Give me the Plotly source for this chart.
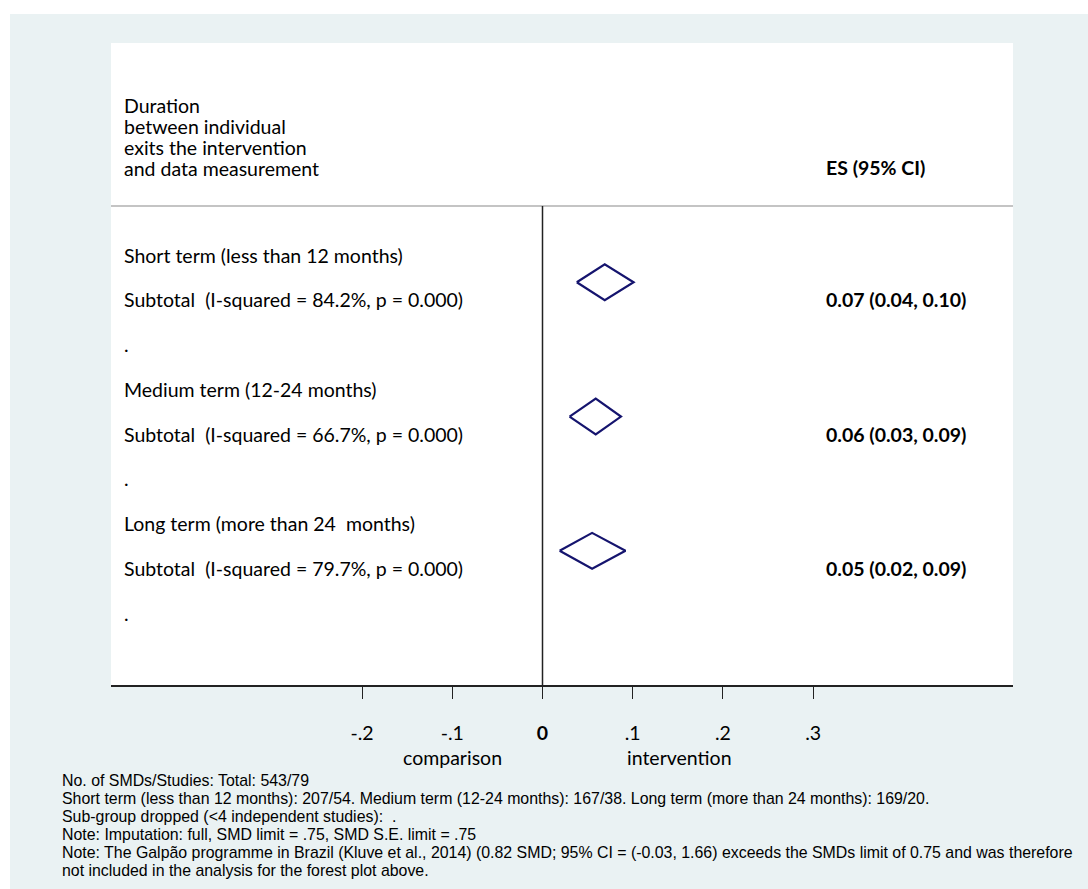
import plotly.graph_objects as go

# ---------------- data ----------------
groups = ["Short term (less than 12 months)",
          "Medium term (12-24 months)",
          "Long term (more than 24\u00a0 months)"]
i_squared = [84.2, 66.7, 79.7]
p_values = [0.000, 0.000, 0.000]
es = [0.069, 0.059, 0.055]          # pooled SMD (diamond centre)
ci_low = [0.038, 0.030, 0.019]
ci_high = [0.101, 0.087, 0.092]
es_text = ["0.07 (0.04, 0.10)", "0.06 (0.03, 0.09)", "0.05 (0.02, 0.09)"]
tick_vals = [-0.2, -0.1, 0, 0.1, 0.2, 0.3]
tick_text = ["-.2", "-.1", "<b>0</b>", ".1", ".2", ".3"]
header_left = ["Duration", "between individual", "exits the intervention", "and data measurement"]
header_right = "ES (95% CI)"
footnotes = [
    "No. of SMDs/Studies: Total: 543/79",
    "Short term (less than 12 months): 207/54. Medium term (12-24 months): 167/38. Long term (more than 24 months): 169/20.",
    "Sub-group dropped (<4 independent studies):  .",
    "Note: Imputation: full, SMD limit = .75, SMD S.E. limit = .75",
    "Note: The Galpão programme in Brazil (Kluve et al., 2014) (0.82 SMD; 95% CI = (-0.03, 1.66) exceeds the SMDs limit of 0.75 and was therefore",
    "not included in the analysis for the forest plot above.",
]

# ---------------- geometry ----------------
W, H = 1088, 889
L, R, T, B = 111, 1013, 43, 685          # plot area in pixels
PW, PH = R - L, B - T
ROW0, PITCH = 255.0, 44.75                # pixel centre of row 0, row pitch

def xp(px):
    return (px - L) / PW

def yp(py):
    return (B - py) / PH

y_top = (T - ROW0) / PITCH
y_bot = (B - ROW0) / PITCH

MAIN = "Lato, 'Open Sans', sans-serif"
FOOT = "'Liberation Sans', Arial, sans-serif"
FS = 19.5
NAVY = "#15146E"

fig = go.Figure()

annotations = []
for g, name in enumerate(groups):
    r_label = 3 * g
    r_sub = 3 * g + 1
    r_dot = 3 * g + 2
    sub_label = f"Subtotal\u00a0 (I-squared = {i_squared[g]:.1f}%, p = {p_values[g]:.3f})"
    for txt, r in [(name, r_label), (sub_label, r_sub), (".", r_dot)]:
        annotations.append(dict(x=xp(122), xref="paper", y=r, yref="y", text=txt,
                                showarrow=False, xanchor="left", yanchor="middle",
                                font=dict(family=MAIN, size=FS, color="black")))
    annotations.append(dict(x=xp(824), xref="paper", y=r_sub, yref="y", text=f"<b>{es_text[g]}</b>",
                            showarrow=False, xanchor="left", yanchor="middle",
                            font=dict(family=MAIN, size=FS, color="black")))
    c = r_sub - 0.39
    h = 0.40
    fig.add_trace(go.Scatter(
        x=[ci_low[g], es[g], ci_high[g], es[g], ci_low[g]],
        y=[c, c - h, c, c + h, c],
        mode="lines", line=dict(color=NAVY, width=2.2),
        hoverinfo="skip", showlegend=False))

for i, txt in enumerate(header_left):
    annotations.append(dict(x=xp(122), xref="paper", y=yp(106 + 20.7 * i), yref="paper", text=txt,
                            showarrow=False, xanchor="left", yanchor="middle",
                            font=dict(family=MAIN, size=FS, color="black")))
annotations.append(dict(x=xp(824), xref="paper", y=yp(167), yref="paper", text=f"<b>{header_right}</b>",
                        showarrow=False, xanchor="left", yanchor="middle",
                        font=dict(family=MAIN, size=FS, color="black")))

annotations.append(dict(x=xp(452), xref="paper", y=yp(757), yref="paper", text="comparison",
                        showarrow=False, xanchor="center", yanchor="middle",
                        font=dict(family=MAIN, size=FS, color="black")))
annotations.append(dict(x=xp(679), xref="paper", y=yp(757), yref="paper", text="intervention",
                        showarrow=False, xanchor="center", yanchor="middle",
                        font=dict(family=MAIN, size=FS, color="black")))

for i, txt in enumerate(footnotes):
    annotations.append(dict(x=xp(60), xref="paper", y=yp(780 + 18.1 * i), yref="paper", text=txt,
                            showarrow=False, xanchor="left", yanchor="middle",
                            font=dict(family=FOOT, size=15.9, color="black")))

shapes = [
    dict(type="rect", xref="paper", yref="paper", x0=xp(10), x1=xp(1100), y0=yp(900), y1=yp(14),
         fillcolor="#EAF2F3", line=dict(width=0), layer="below"),
    dict(type="rect", xref="paper", yref="paper", x0=0, x1=1, y0=0, y1=1,
         fillcolor="white", line=dict(width=0), layer="below"),
    dict(type="line", xref="paper", yref="paper", x0=0, x1=1, y0=yp(206), y1=yp(206),
         line=dict(color="#C4C4C4", width=2)),
    dict(type="line", xref="x", yref="paper", x0=0, x1=0, y0=0, y1=yp(206),
         line=dict(color="#222222", width=1.5)),
]

fig.update_layout(
    width=W, height=H,
    margin=dict(l=L, r=W - R, t=T, b=H - B, pad=0),
    paper_bgcolor="white", plot_bgcolor="white",
    showlegend=False,
    annotations=annotations, shapes=shapes,
    xaxis=dict(range=[(L - 542.5) / PW, (R - 542.5) / PW], tickvals=tick_vals, ticktext=tick_text,
               ticks="outside", ticklen=12, tickwidth=1.3, tickcolor="#222222",
               showline=True, linecolor="#222222", linewidth=1.5, showgrid=False, zeroline=False,
               ticklabelstandoff=18,
               tickfont=dict(family=MAIN, size=FS, color="black"), fixedrange=True),
    yaxis=dict(range=[y_bot, y_top], visible=False, showgrid=False, zeroline=False, fixedrange=True),
)

fig.write_html("out.html", config={"displayModeBar": False},
               post_script="document.body.style.margin='0';document.body.style.overflow='hidden';")
